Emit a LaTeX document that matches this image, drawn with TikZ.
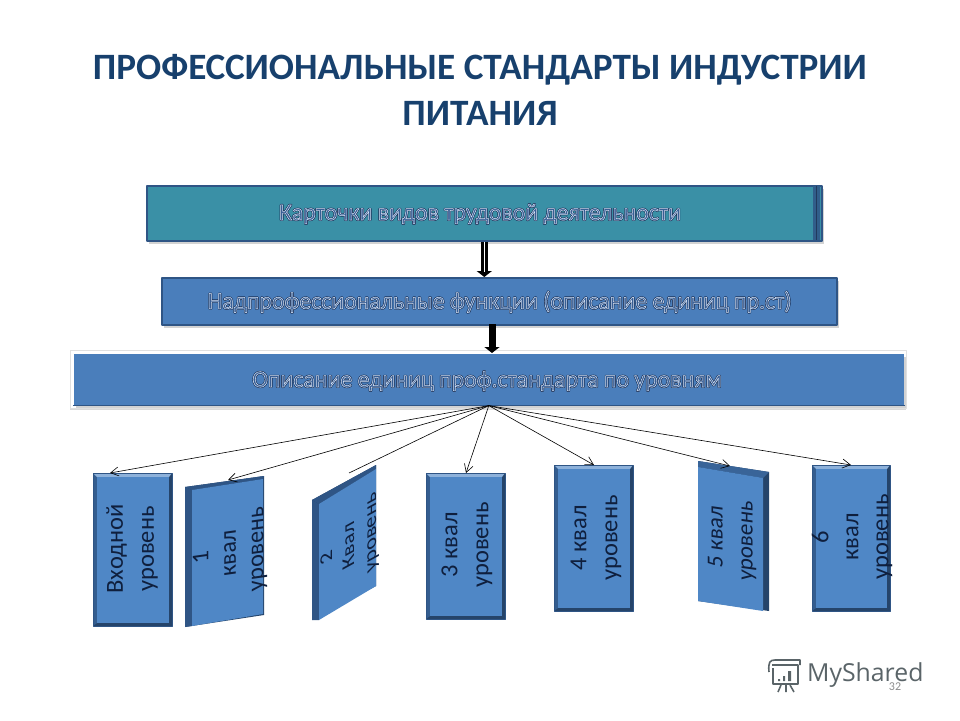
\documentclass[tikz,border=0pt]{standalone}
\usepackage{fontspec}
\setmainfont{Carlito}
\newfontfamily\markfont{Open Sans}
\usetikzlibrary{arrows.meta,calc,positioning,shadows}
\definecolor{titleblue}{HTML}{17406D}
\definecolor{cardteal}{HTML}{3A90A6}
\definecolor{cardedge}{HTML}{2F5585}
\definecolor{barblue}{HTML}{4A7EBB}
\definecolor{lvlblue}{HTML}{4F87C6}
\definecolor{lvlink}{HTML}{0F1F3D}
\definecolor{markgray}{HTML}{5A6468}

% outlined lettering of the three bars: dark edge first, pale edge on top
\newcommand{\outl}[1]{%
  \rlap{\special{pdf: code q 2 Tr 1.8 w 0.10 0.19 0.34 RG 0.10 0.19 0.34 rg}#1\special{pdf: code Q}}%
  \special{pdf: code q 2 Tr 0.5 w 0.85 0.90 0.97 RG 0.22 0.37 0.58 rg}#1\special{pdf: code Q}}

\begin{document}
\begin{tikzpicture}[
  x=1pt, y=-1pt, line join=round,
  bar/.style={draw=cardedge, line width=1.6pt, inner sep=0pt, anchor=north west,
              drop shadow={shadow xshift=2pt, shadow yshift=-3pt, opacity=0.35}},
  bartxt/.style={font=\fontsize{23.8}{26}\selectfont},
  lvltxt/.style={text=lvlink, align=center, inner sep=0pt},
  thin arrow/.style={-{Straight Barb[length=8pt,width=9pt]}, line width=0.6pt},
  thick arrow/.style={-{Triangle[length=6pt,width=15pt,sep=0pt]}, line width=7pt},
  every node/.style={font=\small}
]
\useasboundingbox (0,0) rectangle (960,720);

% --- title
\node[text=titleblue, align=center, font=\fontsize{37.2}{46}\selectfont\bfseries] (title) at (480,90)
  {ПРОФЕССИОНАЛЬНЫЕ СТАНДАРТЫ ИНДУСТРИИ\\ПИТАНИЯ};

% --- three bars
\path[fill=white, draw=black!12, line width=1pt, drop shadow={shadow xshift=0pt, shadow yshift=-2pt, opacity=0.3}]
  (70,350) rectangle (906,408);
\node[bar, fill=cardteal, minimum width=675pt, minimum height=55pt] (card) at (146,185) {};
\fill[cardedge!85!cardteal] (813,186) rectangle (820,240);
\draw[cardedge!70!black, line width=0.6pt] (816,186) -- (816,240);
\node[bar, fill=barblue, minimum width=675pt, minimum height=47pt] (func) at (161,277) {};
\node[bar, fill=barblue, draw=none, minimum width=830pt, minimum height=51pt, drop shadow={opacity=0}] (desc) at (73,353) {};
\draw[cardedge, line width=1.6pt] (desc.south west) -- (desc.south east);

\node[bartxt] (cardtxt) at (480,214) {\outl{Карточки видов трудовой деятельности}};
\node[bartxt] (functxt) at (499.5,302) {\outl{Надпрофессиональные функции (описание единиц пр.ст)}};
\node[bartxt] (desctxt) at (487,381) {\outl{Описание единиц проф.стандарта по уровням}};

% --- thick arrows between the bars
\coordinate (funcdrop) at (492,324);
\draw[thick arrow] (card.south) -- (card.south |- func.north);
\draw[white, line width=1.5pt] (card.south) -- ++(0,30);
\draw[thick arrow] (funcdrop) -- (funcdrop |- desc.north);

% --- level boxes: x left, x right, y corners, then bevel widths l/t/r/b
\foreach \xa/\xb/\ya/\yb/\yc/\yd/\wl/\wt/\wr/\wb/\cl/\ct in {
    93/172/473/473/626/626/4/4/3/3/cardedge!85!lvlblue/lvlblue!65!white,
    185/264/487/476/615/627/7/3/1/1/cardedge/cardedge,
    312/376/500/465/586/620/7/4/0/0/cardedge/cardedge,
    426/505/473/473/619/619/4/4/3/3/cardedge!85!lvlblue/lvlblue!65!white,
    554/633/465/465/611/611/4/4/3/3/cardedge!85!lvlblue/lvlblue!65!white,
    698/769/461/472/611/601/0/6/6/0/cardedge/cardedge!70!lvlblue,
    812/890/465/465/611/611/4/4/3/3/cardedge!85!lvlblue/lvlblue!65!white}
{
  \fill[cardedge!80!black] (\xa,\ya) -- (\xb,\yb) -- (\xb,\yc) -- (\xa,\yd) -- cycle;
  \fill[\cl] (\xa,\ya) -- (\xa+\wl,\ya+\wt) -- (\xa+\wl,\yd-\wb) -- (\xa,\yd) -- cycle;
  \fill[\ct] (\xa,\ya) -- (\xb,\yb) -- (\xb-\wr,\yb+\wt) -- (\xa+\wl,\ya+\wt) -- cycle;
  \fill[lvlblue] (\xa+\wl,\ya+\wt) -- (\xb-\wr,\yb+\wt) -- (\xb-\wr,\yc-\wb) -- (\xa+\wl,\yd-\wb) -- cycle;
}
\path[draw=cardedge, line width=0.8pt] (93,473) rectangle (172,626) (426,473) rectangle (505,619)
  (554,465) rectangle (633,611) (812,465) rectangle (890,611);

% --- level labels
\node[lvltxt, rotate=90, font=\fontsize{24.5}{31}\selectfont] (lvlzero) at (132,549) {Входной\\уровень};
\node[lvltxt, yslant=0.14, rotate=90, font=\fontsize{24}{27.5}\selectfont] (lvlone) at (230,553) {1\\квал\\уровень};
\node[lvltxt, yslant=0.55, rotate=90, xscale=1.25, font=\fontsize{18}{22}\selectfont] (lvltwo) at (350,545) {2\\Квал\\уровень};
\node[lvltxt, rotate=90, font=\fontsize{24.5}{31}\selectfont] (lvlthree) at (467,545) {3 квал\\уровень};
\node[lvltxt, rotate=90, font=\fontsize{24.5}{31}\selectfont] (lvlfour) at (596,538) {4 квал\\уровень};
\node[lvltxt, yslant=-0.14, rotate=90, font=\fontsize{23}{30}\selectfont] (lvlfive) at (732,539) {5 квал\\уровень};
\node[lvltxt, rotate=90, font=\fontsize{24.5}{30}\selectfont] (lvlsix) at (852,537) {6\\квал\\уровень};

% --- fan out of the third bar
\coordinate (hub) at (desc.south);
\coordinate (endzero) at (110,473);
\coordinate (endone) at (228,480);
\coordinate (endtwo) at (349,473);
\coordinate (endthree) at (466,473);
\coordinate (endfour) at (594,465);
\coordinate (endfive) at (730,466);
\coordinate (endsix) at (851,465);
\foreach \e in {endzero,endone,endthree,endfour,endfive,endsix}
  \draw[thin arrow] (hub) -- (\e);
\draw[line width=0.6pt] (hub) -- (endtwo);

% --- mark in the corner
\begin{scope}[markgray, line width=1.6pt]
  \draw (772,665) -- (798,665) -- (798,684) -- (773,684) -- (773,668);
  \draw (769,672) .. controls (768,662) and (770,660) .. (775,660) -- (800,660) -- (800,665);
  \fill (778,679) rectangle (780,681) (783,676) rectangle (785,681) (788,671) rectangle (791,681);
  \draw (781,685) -- (778,692) (786,685) -- (786,692) (790,685) -- (794,692);
\end{scope}
\node[text=markgray, font=\markfont\fontsize{24.8}{24}\selectfont, anchor=west, inner sep=0pt] (mark) at (807,675) {MyShared};
\node[text=black!45, font=\fontsize{12}{12}\selectfont, inner sep=0pt] (pageno) at (895,687) {32};
\end{tikzpicture}
\end{document}
